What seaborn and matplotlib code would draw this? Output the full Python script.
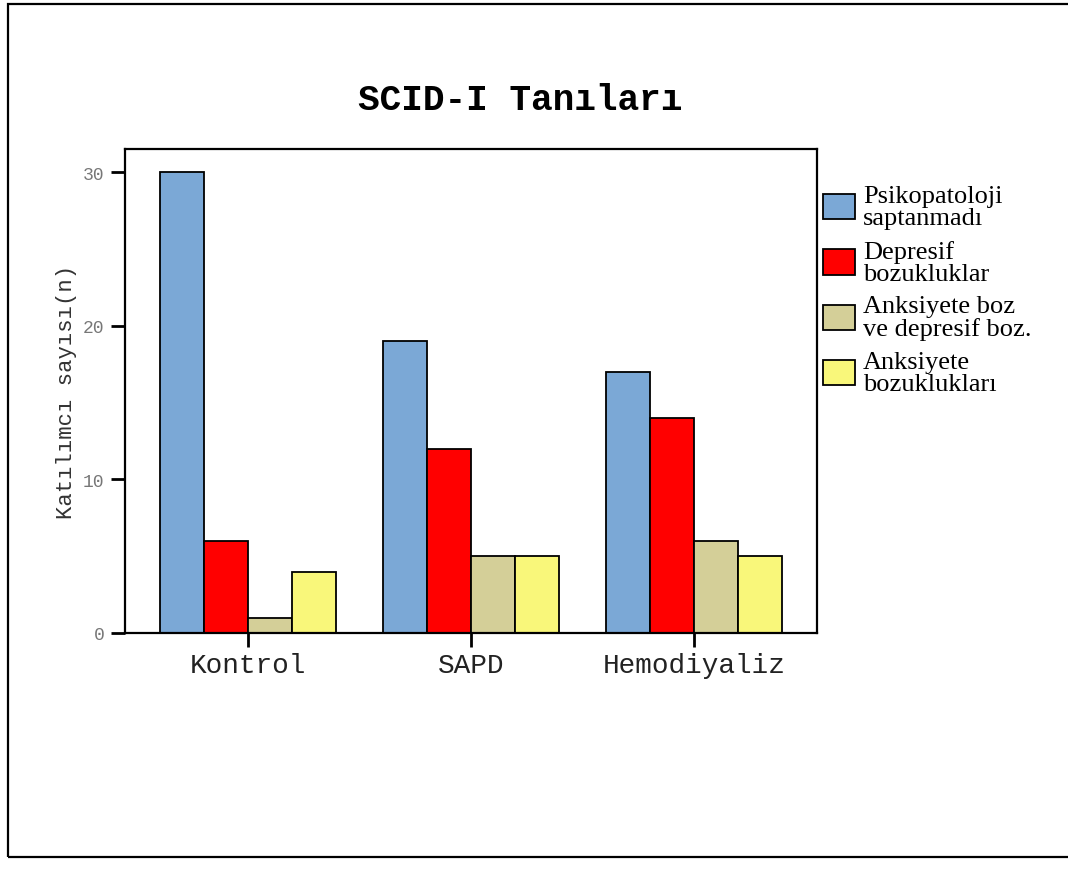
import matplotlib
matplotlib.use("Agg")
import matplotlib.pyplot as plt
from matplotlib.patches import Rectangle
import seaborn as sns
import pandas as pd

# ---- data ----
groups = ["Kontrol", "SAPD", "Hemodiyaliz"]
series = ["Psikopatoloji\nsaptanmadı", "Depresif\nbozukluklar",
          "Anksiyete boz\nve depresif boz.", "Anksiyete\nbozuklukları"]
psikopatoloji_yok = [30, 19, 17]
depresif = [6, 12, 14]
anksiyete_depresif = [1, 5, 6]
anksiyete = [4, 5, 5]
colors = ["#7BA8D6", "#FF0000", "#D4CF98", "#F9F77A"]
title = "SCID-I Tanıları"
ylabel = "Katılımcı sayısı(n)"
yticks = [0, 10, 20, 30]

values = [psikopatoloji_yok, depresif, anksiyete_depresif, anksiyete]
rows = []
for s, vals in zip(series, values):
    for g, v in zip(groups, vals):
        rows.append({"grup": g, "tani": s, "n": v})
df = pd.DataFrame(rows)

sns.set_theme(style="white")
plt.rcParams["font.family"] = ["Liberation Mono", "DejaVu Sans Mono"]

fig = plt.figure(figsize=(10.68, 8.70), dpi=100)
ax = fig.add_axes([125/1068, 1-634/870, (817-125)/1068, (634-150)/870])

sns.barplot(data=df, x="grup", y="n", hue="tani", order=groups, hue_order=series,
            palette=colors, width=0.79, gap=0, dodge=True, saturation=1,
            edgecolor="black", linewidth=1.3, ax=ax)

ax.set_xlim(-0.552, 2.552)
ax.set_ylim(0, 31.5)
ax.set_yticks(yticks)
ax.set_yticklabels([str(t) for t in yticks], fontsize=13, color="#777777")
ax.set_xticks(range(len(groups)))
ax.set_xticklabels(groups, fontsize=20, color="#222222")
ax.tick_params(axis="y", direction="out", length=10, width=2, color="black", left=True, pad=5)
ax.tick_params(axis="x", direction="out", length=10, width=2, color="black", bottom=True, pad=4)
ax.set_xlabel("")
ax.set_ylabel(ylabel, fontsize=16, color="#333333", labelpad=4)
for sp in ax.spines.values():
    sp.set_visible(True)
    sp.set_color("black")
    sp.set_linewidth(1.6)

handles, labels = ax.get_legend_handles_labels()
leg = ax.legend(handles, labels, loc="upper left", bbox_to_anchor=(1.0087, 0.925),
                frameon=False, prop={"family": "Liberation Serif", "size": 19},
                handlelength=1.22, handleheight=1.1, handletextpad=0.3,
                labelspacing=0.4, borderaxespad=0, borderpad=0)
for t in leg.get_texts():
    t.set_linespacing(1.0)
    t.set_color("black")

fig.text(0.487, 1-100/870, title, ha="center", va="center", fontsize=26,
         fontweight="bold", family="Liberation Mono", color="black")

fig.patches.append(Rectangle((8/1068, 1-858/870), 1.2, (858-5)/870,
                             transform=fig.transFigure, fill=False,
                             edgecolor="black", linewidth=1.6))

fig.savefig("out.png", dpi=100)
